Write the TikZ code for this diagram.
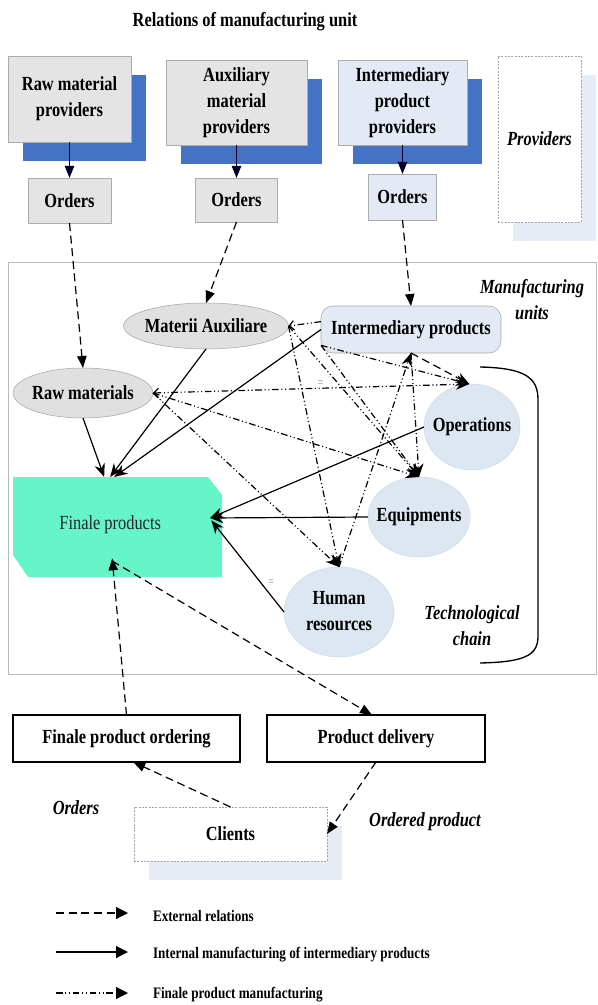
\documentclass[tikz,border=0pt]{standalone}
\usepackage{fontspec}
\setmainfont{Liberation Serif}[FakeStretch=0.82]
\usetikzlibrary{positioning,arrows.meta,shapes.geometric,shadows}

\definecolor{boxgray}{HTML}{E4E4E4}
\definecolor{ellgray}{HTML}{E0E0E0}
\definecolor{provblue}{HTML}{4472C4}
\definecolor{paleblue}{HTML}{E4EAF5}
\definecolor{shadeblue}{HTML}{E6ECF6}
\definecolor{unitblue}{HTML}{DCE7F1}
\definecolor{unitline}{HTML}{C9DDE6}
\definecolor{finalegreen}{HTML}{66F5C8}

\newcommand\boxfont{\fontsize{15}{19.5}\selectfont\bfseries}
\newcommand\notefont{\fontsize{15}{19.5}\selectfont\bfseries\itshape}
\newcommand\legfont{\fontsize{12}{14}\selectfont\bfseries}
\newcommand\zw[1]{\makebox[0pt]{#1}}

\tikzset{barbtip/.tip={Straight Barb[length=3.5pt,width=7pt]},
         kitetip/.tip={Stealth[length=10pt,width=8pt]},
         headtip/.tip={Triangle[length=9pt,width=7pt]}}

\begin{document}
\begin{tikzpicture}[x=0.75pt, y=-0.75pt, >=kitetip, node distance=27pt,
    inner sep=0pt, outer sep=0pt,
    provbox/.style={rectangle, draw=gray!65, fill=boxgray, font=\boxfont, align=center,
        drop shadow={shadow xshift=11.25pt, shadow yshift=-14.25pt, fill=provblue, opacity=1}},
    ordbox/.style={rectangle, draw=gray!65, fill=boxgray, font=\boxfont},
    grayell/.style={ellipse, draw=gray!70, fill=ellgray, font=\boxfont},
    unitell/.style={ellipse, draw=unitline, fill=unitblue, font=\boxfont},
    dotbox/.style={rectangle, draw=gray!70, dash pattern=on 1.5pt off 1pt, fill=white,
        drop shadow={shadow xshift=11.25pt, shadow yshift=-14.25pt, fill=shadeblue, opacity=1}},
    thickbox/.style={rectangle, draw=black, line width=1.4pt, fill=white, font=\boxfont, minimum height=35.25pt},
    finalebox/.style={rectangle, fill=white, minimum width=156.75pt, minimum height=75pt,
        font=\fontsize{15}{19.5}\selectfont,
        path picture={\fill[finalegreen] (path picture bounding box.north west)
            -- ([xshift=-10.5pt]path picture bounding box.north east)
            -- ([yshift=-13.5pt]path picture bounding box.north east)
            -- (path picture bounding box.south east)
            -- ([xshift=11.25pt]path picture bounding box.south west)
            -- ([yshift=16.5pt]path picture bounding box.south west) -- cycle;}},
    note/.style={font=\notefont, align=center},
    legtext/.style={font=\legfont, anchor=west},
    provarrow/.style={-headtip, line width=0.8pt, draw=black!85!blue},
    extline/.style={-headtip, line width=0.9pt, dash pattern=on 6pt off 3.5pt},
    intline/.style={->, line width=0.9pt},
    finline/.style={->, line width=0.9pt, dash pattern=on 5pt off 2pt on 0.8pt off 2pt on 0.8pt off 2pt},
    eqmark/.style={font=\small, text=gray}]

\useasboundingbox (0,0) rectangle (597,1005);

% Manufacturing unit frame
\draw[gray!55] (8,262) rectangle (596,674);

% Providers
\node[font=\boxfont] (title) at (245,22) {Relations of manufacturing unit};
\node[provbox, minimum width=92.25pt, minimum height=64.5pt] (rawprov) at (69.5,99) {Raw material\\providers};
\node[provbox, minimum width=105.75pt, minimum height=63.75pt] (auxprov) at (236.5,102.5) {Auxiliary\\material\\providers};
\node[provbox, fill=paleblue, minimum width=96.75pt, minimum height=63.75pt] (intprov) at (402.5,102.5) {Intermediary\\product\\providers};
\node[dotbox, font=\notefont, minimum width=62.25pt, minimum height=124.5pt] (providers) at (539.5,139) {Providers};

% Orders
\node[ordbox, below=27pt of rawprov, minimum width=62.25pt, minimum height=33.75pt] (ord1) {Orders};
\node[ordbox, below=24.75pt of auxprov, minimum width=61.5pt, minimum height=33pt] (ord2) {Orders};
\node[ordbox, fill=paleblue, below=21.75pt of intprov, minimum width=51pt, minimum height=34.5pt] (ord3) {Orders};

% Manufacturing units
\node[note] (unitsnote) at (532,300) {Manufacturing\\units};
\node[grayell, minimum width=123.75pt, minimum height=34.5pt] (auxmat) at (206,326) {\zw{Materii Auxiliare}};
\node[grayell, minimum width=105pt, minimum height=37.5pt] (rawmat) at (83,393) {\zw{Raw materials}};
\node[rectangle, rounded corners=9pt, draw=gray!70, fill=paleblue, font=\boxfont,
      minimum width=135pt, minimum height=35.25pt] (intprod) at (411,329.5) {Intermediary products};
\node[unitell, minimum width=72pt, minimum height=64.5pt] (oper) at (472,427) {\zw{Operations}};
\node[unitell, minimum width=76.5pt, minimum height=60pt] (equip) at (419,517) {\zw{Equipments}};
\node[unitell, minimum width=82.5pt, minimum height=67.5pt] (human) at (339,612)
    {\zw{\begin{tabular}{@{}c@{}}Human\\resources\end{tabular}}};
\node[finalebox, text=black!85] (finale) at (117.5,527) {\raisebox{6pt}{Finale products}\hspace*{11pt}};

% Technological chain
\draw[line width=1pt] (480,367) .. controls (526,368) and (538,378) .. (538,400)
    -- (538,636) .. controls (538,655) and (526,662) .. (480,663);
\node[note] (chainnote) at (472,626) {Technological\\chain};

% Clients side
\node[thickbox, minimum width=170.25pt] (fpord) at (126.5,738.5) {Finale product ordering};
\node[thickbox, right=20.25pt of fpord, minimum width=163.5pt] (delivery) {Product delivery};
\node[dotbox, font=\boxfont, minimum width=144.75pt, minimum height=40.5pt] (clients) at (230.5,834) {Clients};
\node[note] (ordersnote) at (76,808) {Orders};
\node[note] (orderednote) at (425,822) {Ordered product};

% Provider orders
\draw[provarrow] (rawprov) -- (ord1);
\draw[provarrow] (auxprov) -- (ord2);
\draw[provarrow] (intprov) -- (ord3);

% External relations
\draw[extline] (ord1.south) -- (rawmat.north);
\draw[extline] (ord2.south) -- (auxmat.north);
\draw[extline] (ord3.south) -- (intprod.north);
\draw[extline] (fpord.north) -- ([xshift=-4pt,yshift=14pt]finale.south);
\draw[extline] ([xshift=-4pt,yshift=12pt]finale.south) -- ([xshift=-3pt]delivery.north);
\draw[extline] (clients.north) -- ([xshift=5pt]fpord.south);
\draw[extline] (delivery.south) -- (clients.east);

% Internal manufacturing of intermediary products
\draw[intline] (rawmat.south) -- ([xshift=-10pt]finale.north);
\draw[intline] (auxmat.south) -- ([xshift=-5.5pt]finale.north);
\draw[intline] (intprod.west) -- ([xshift=-2.5pt]finale.north);
\draw[intline] (oper.west) -- ([xshift=-9pt,yshift=6.75pt]finale.east);
\draw[intline] (equip.west) -- ([xshift=-9pt,yshift=6.75pt]finale.east);
\draw[intline] (human.west) -- node[eqmark, pos=0.36, xshift=10pt, yshift=-3pt] (eq2) {=} ([xshift=-8pt,yshift=5pt]finale.east);

% Finale product manufacturing
\draw[finline, barbtip-kitetip] (rawmat.east) -- node[eqmark, pos=0.53, yshift=3pt] (eq1) {=} ([xshift=-2pt]oper.north);
\draw[finline] (rawmat.east) -- (equip.north);
\draw[finline] (rawmat.east) -- (human.north);
\draw[finline] (auxmat.east) -- (human.north);
\draw[finline] (auxmat.east) -- (equip.north);
\draw[finline, -barbtip] (intprod.175) -- (auxmat.east);
\draw[finline] (intprod.190) -- ([xshift=-2pt]oper.north);
\draw[finline] (intprod.190) -- (equip.north);
\draw[extline, -kitetip] (intprod.south) -- ([xshift=-2pt]oper.north);
\draw[finline] (human.north) -- (intprod.south);
\draw[finline] (intprod.south) -- (equip.north);

% Legend
\coordinate (ext0) at (56,913);   \coordinate (ext1) at (128,913);
\coordinate (int0) at (56,952);   \coordinate (int1) at (128,952);
\coordinate (fin0) at (56,993);   \coordinate (fin1) at (128,993);
\draw[extline, -{Triangle[length=9pt,width=9pt]}] (ext0) -- (ext1);
\draw[intline, -{Triangle[length=9pt,width=9pt]}] (int0) -- (int1);
\draw[finline, -{Triangle[length=9pt,width=9pt]}] (fin0) -- (fin1);
\node[legtext] (extleg) at (153,916) {External relations};
\node[legtext] (intleg) at (153,955) {Internal manufacturing of intermediary products};
\node[legtext] (finleg) at (153,995) {Finale product manufacturing};

\end{tikzpicture}
\end{document}
